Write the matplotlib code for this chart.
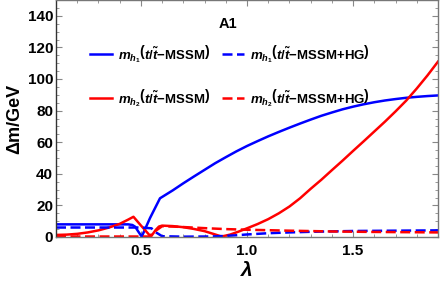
import matplotlib
matplotlib.use("Agg")
import matplotlib.pyplot as plt
import numpy as np
from matplotlib.ticker import MultipleLocator

plt.rcParams['font.family'] = ['Liberation Sans', 'DejaVu Sans']
plt.rcParams['font.weight'] = 'bold'
plt.rcParams['mathtext.fontset'] = 'custom'
plt.rcParams['mathtext.it'] = 'Liberation Sans:bold:italic'
plt.rcParams['mathtext.rm'] = 'Liberation Sans:bold'
plt.rcParams['mathtext.bf'] = 'Liberation Sans:bold'

# ---- data ----
lam_h1 = [0.10, 0.20, 0.30, 0.40, 0.44, 0.46, 0.473, 0.49, 0.504, 0.543, 0.59,
          0.65, 0.70, 0.75, 0.80, 0.85, 0.90, 0.95, 1.00, 1.05, 1.10, 1.15, 1.20,
          1.25, 1.30, 1.35, 1.40, 1.45, 1.50, 1.55, 1.60, 1.65, 1.70, 1.75, 1.80,
          1.85, 1.90]
mh1_mssm = [8.0, 8.0, 8.0, 8.0, 8.0, 7.6, 6.5, 3.0, 0.2, 12.0, 24.5,
            29.5, 34.0, 38.3, 42.5, 46.7, 50.5, 54.2, 57.6, 60.7, 63.7, 66.5, 69.2,
            71.8, 74.3, 76.7, 78.8, 80.8, 82.5, 84.0, 85.3, 86.4, 87.3, 88.1, 88.7,
            89.2, 89.6]

lam_h1hg = [0.10, 0.30, 0.50, 0.55, 0.57, 0.60, 0.70, 0.80, 0.85, 0.90, 0.95,
            1.00, 1.10, 1.20, 1.30, 1.50, 1.70, 1.90]
mh1_hg = [6.0, 6.0, 6.0, 5.5, 3.0, 0.5, 0.2, 0.3, 0.4, 0.7, 1.1,
          1.6, 2.4, 2.9, 3.3, 3.8, 4.0, 4.2]

lam_h2 = [0.10, 0.15, 0.20, 0.25, 0.30, 0.35, 0.40, 0.44, 0.465, 0.50, 0.512,
          0.547, 0.57, 0.585, 0.60, 0.65, 0.70, 0.75, 0.80, 0.85, 0.88, 0.92,
          0.96, 1.00, 1.05, 1.10, 1.15, 1.20, 1.25, 1.30, 1.35, 1.40, 1.45,
          1.50, 1.55, 1.60, 1.65, 1.70, 1.75, 1.80, 1.85, 1.90]
mh2_mssm = [1.3, 1.5, 2.0, 2.9, 4.2, 6.0, 8.3, 11.0, 12.8, 7.3, 5.5,
            0.2, 4.5, 6.6, 7.2, 6.9, 6.2, 5.1, 3.7, 1.6, 0.3, 1.5,
            3.4, 5.5, 8.2, 11.3, 15.0, 19.3, 24.5, 30.5, 36.2, 42.3, 48.3,
            54.5, 60.6, 66.8, 73.0, 79.5, 86.3, 94.0, 102.2, 111.0]

lam_h2hg = [0.10, 0.30, 0.54, 0.56, 0.60, 0.65, 0.70, 0.80, 0.90, 1.00, 1.10,
            1.20, 1.40, 1.60, 1.90]
mh2_hg = [0.3, 0.3, 0.3, 3.0, 6.8, 6.6, 6.3, 5.6, 5.0, 4.6, 4.3,
          4.0, 3.5, 3.2, 2.9]

labels = [r'$m_{h_1}\left(t/\tilde{t}\mathrm{-MSSM}\right)$',
          r'$m_{h_2}\left(t/\tilde{t}\mathrm{-MSSM}\right)$',
          r'$m_{h_1}\left(t/\tilde{t}\mathrm{-MSSM{+}HG}\right)$',
          r'$m_{h_2}\left(t/\tilde{t}\mathrm{-MSSM{+}HG}\right)$']
legend_title = 'A1'
xticks = [0.5, 1.0, 1.5]
yticks = [0, 20, 40, 60, 80, 100, 120, 140]

fig = plt.figure(figsize=(4.41, 2.88), dpi=100)
ax = fig.add_axes([56/441, 51/288, (438-56)/441, 237/288])

blue = '#0000ff'
red = '#ff0000'
lw = 1.8
l1, = ax.plot(lam_h1, mh1_mssm, color=blue, lw=lw, solid_joinstyle='round')
l2, = ax.plot(lam_h2, mh2_mssm, color=red, lw=lw, solid_joinstyle='round')
l3, = ax.plot(lam_h1hg, mh1_hg, color=blue, lw=lw, dashes=(4, 1.8))
l4, = ax.plot(lam_h2hg, mh2_hg, color=red, lw=lw, dashes=(4, 1.8))

ax.set_xlim(0.1, 1.9)
ax.set_ylim(0, 150)
ax.set_xticks(xticks)
ax.set_xticklabels(['%.1f' % t for t in xticks])
ax.set_yticks(yticks)
ax.xaxis.set_minor_locator(MultipleLocator(0.1))
ax.yaxis.set_minor_locator(MultipleLocator(5))
ax.tick_params(which='both', direction='in', top=True, right=True,
               labelsize=11, color='#888888')
ax.tick_params(which='major', length=4, width=0.8)
ax.tick_params(which='minor', length=2, width=0.6)
ax.tick_params(axis='x', pad=5)
ax.tick_params(axis='y', pad=2)
for s in ax.spines.values():
    s.set_color('#777777')
    s.set_linewidth(1.0)
ax.spines['left'].set_color('#333333')

ax.set_ylabel(r'Δm/GeV', fontsize=13, fontweight='bold', labelpad=3)
ax.set_xlabel(r'$\lambda$', fontsize=15, labelpad=2)

leg = ax.legend([l1, l2, l3, l4], labels, ncol=2, loc='upper left',
                bbox_to_anchor=(0.073, 0.846), frameon=False, fontsize=9.5,
                handlelength=1.6, handletextpad=0.5, columnspacing=0.9,
                labelspacing=1.7, borderpad=0.0)
ax.text(0.45, 0.90, legend_title, transform=ax.transAxes, ha='center',
        va='center', fontsize=10.5, fontweight='bold')

fig.savefig('out.png', dpi=100)
